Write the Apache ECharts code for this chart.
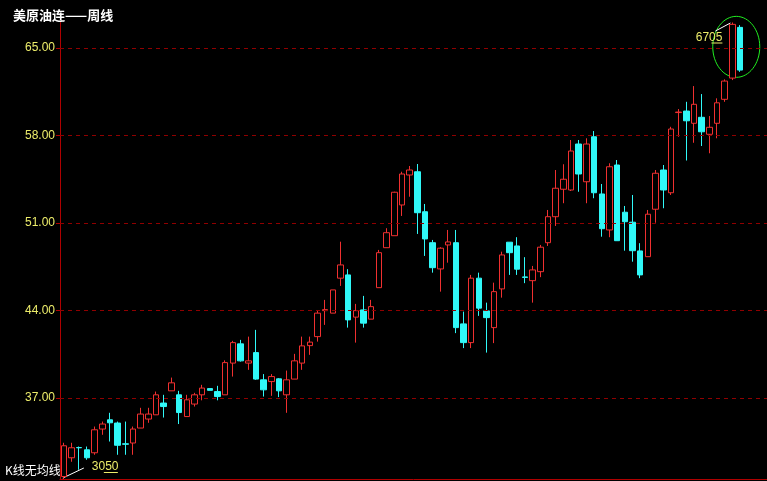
<!DOCTYPE html>
<html><head><meta charset="utf-8">
<script src="https://cdn.jsdelivr.net/npm/echarts@6/dist/echarts.min.js"></script>
<style>html,body{margin:0;padding:0;background:#000;} #c{width:767px;height:481px;}</style>
</head><body><div id="c"></div>
<script>
// Weekly bars (index order, oldest first)
const weeks = [1,2,3,4,5,6,7,8,9,10,11,12,13,14,15,16,17,18,19,20,21,22,23,24,25,26,27,28,29,30,
  31,32,33,34,35,36,37,38,39,40,41,42,43,44,45,46,47,48,49,50,51,52,53,54,55,56,57,58,59,60,
  61,62,63,64,65,66,67,68,69,70,71,72,73,74,75,76,77,78,79,80,81,82,83,84,85,86,87,88,89].map(String);
const opens = [30.70,32.20,33.02,32.84,32.60,34.50,35.24,34.98,33.32,33.38,
  34.58,35.30,35.64,36.58,37.56,37.24,35.50,36.50,37.24,37.74,
  37.50,37.24,39.78,41.32,39.78,40.62,38.44,38.30,38.52,37.24,
  38.50,39.78,41.18,41.90,43.98,43.78,46.58,46.84,43.46,44.04,
  43.30,45.82,49.02,49.98,52.44,54.84,55.10,51.90,49.42,47.32,
  49.24,49.42,42.92,41.42,46.58,43.96,42.62,45.72,49.46,49.16,
  46.68,46.38,47.10,49.42,51.50,53.70,53.64,57.32,54.30,57.90,
  53.32,50.44,55.64,51.86,51.06,48.76,48.30,52.10,55.24,53.42,
  59.84,59.96,58.98,59.46,58.10,58.98,60.90,62.60,66.66];
const closes = [33.16,33.00,33.00,32.20,34.44,34.90,35.00,33.20,33.28,34.50,
  35.70,35.70,37.24,36.30,38.20,35.82,36.84,37.24,37.78,37.60,
  37.10,39.82,41.42,39.96,39.96,38.50,37.64,38.70,37.56,38.44,
  39.96,41.16,41.46,43.78,44.06,45.64,47.64,43.24,43.98,42.98,
  44.30,48.62,50.22,53.46,54.92,55.24,51.82,49.72,47.42,48.98,
  49.48,42.62,41.42,46.58,44.18,43.42,45.50,48.44,48.62,47.30,
  46.64,47.24,49.06,51.50,53.78,54.50,56.76,54.92,57.32,53.42,
  50.54,55.50,49.58,51.10,48.78,46.84,51.70,54.98,53.64,58.52,
  59.88,59.18,60.50,58.30,58.66,60.62,62.36,66.90,63.24];
const lows = [30.50,31.88,31.24,32.04,32.44,34.04,33.50,32.44,32.44,32.44,
  34.58,35.00,35.64,35.42,37.56,34.90,35.50,36.30,36.80,37.60,
  36.80,37.24,38.70,39.90,39.24,38.44,37.10,37.16,37.06,35.80,
  38.50,39.24,40.44,41.50,42.84,43.78,45.96,42.62,41.42,42.62,
  43.30,45.82,49.02,49.98,51.56,53.10,50.12,48.36,47.02,45.50,
  47.82,42.18,40.98,40.98,43.56,40.62,41.38,45.02,46.84,46.84,
  46.18,44.62,46.66,49.16,50.76,52.58,53.56,53.50,52.58,52.98,
  49.90,49.86,49.58,48.78,47.90,46.58,48.30,51.02,52.18,53.24,
  57.90,56.00,57.42,57.16,56.58,57.78,60.70,62.44,63.10];
const highs = [33.40,33.40,33.10,33.10,34.70,35.10,35.80,35.10,35.10,34.70,
  36.20,36.20,37.50,37.24,38.62,37.56,37.24,37.40,38.04,37.74,
  37.96,40.00,41.56,41.64,41.90,42.44,38.90,38.90,38.58,39.18,
  40.52,41.90,41.90,43.96,44.84,45.64,49.50,47.30,44.52,45.16,
  44.84,48.84,50.58,53.50,55.10,55.56,55.72,52.52,49.64,49.06,
  50.44,50.44,43.90,46.84,47.02,44.62,46.22,48.70,49.46,49.86,
  48.26,47.56,49.24,52.04,55.24,55.70,57.64,57.64,57.78,58.36,
  54.12,55.78,56.04,52.36,53.24,49.38,52.04,55.24,55.64,58.70,
  60.12,60.70,61.96,61.32,59.56,60.98,62.50,67.05,66.84];
const yTicks = [37, 44, 51, 58, 65];
const titleText = '美原油连——周线';
const noteText = 'K线无均线';

const UP = '#f03030', DOWN = '#30f8f8', GRID = '#900000', AXIS = '#b00000', LABEL = '#ecec6a';
const chart = echarts.init(document.getElementById('c'), null, {renderer: 'canvas'});
const ohlc = opens.map((o, i) => [o, closes[i], lows[i], highs[i]]);

chart.setOption({
  backgroundColor: '#000',
  animation: false,
  title: {text: titleText, left: 8, top: 4,
    textStyle: {color: '#fff', fontSize: 13, fontWeight: 'bold', fontFamily: 'Noto Sans CJK SC'}},
  grid: {left: 60, right: 0, top: 22.5, bottom: 2, containLabel: false},
  xAxis: {type: 'category', data: weeks, max: 91, boundaryGap: true,
    axisLine: {show: true, lineStyle: {color: AXIS}},
    axisTick: {show: false}, axisLabel: {show: false}, splitLine: {show: false}},
  yAxis: {type: 'value', min: 30.5, max: 67.05, scale: true,
    axisLine: {show: true, lineStyle: {color: AXIS}},
    axisTick: {show: true, length: 4, customValues: yTicks, lineStyle: {color: AXIS}},
    axisLabel: {customValues: yTicks, color: LABEL, fontSize: 12, fontFamily: 'Liberation Sans',
      margin: 5, formatter: v => v.toFixed(2)},
    splitLine: {show: false}},
  series: [{
    type: 'candlestick', data: ohlc, barWidth: 6, silent: true,
    itemStyle: {color: '#000', color0: DOWN, borderColor: UP, borderColor0: DOWN, borderWidth: 1},
    markLine: {silent: true, symbol: ['none', 'none'], label: {show: false},
      lineStyle: {color: GRID, type: [4, 4], width: 1}, emphasis: {disabled: true},
      data: yTicks.map(v => ({yAxis: v}))}
  }]
});

const px = (i, v) => chart.convertToPixel({xAxisIndex: 0, yAxisIndex: 0}, [i, v]);
const last = opens.length - 1;
const hiIdx = last - 1;
const hi = px(hiIdx, highs[hiIdx]);
const lo = px(0, lows[0]);
const c1 = px(hiIdx, 65.1), c2 = px(last, 65.1);
const hiStr = highs[hiIdx].toFixed(2).replace('.', '');
const loStr = lows[0].toFixed(2).replace('.', '');
const font = '12px "Liberation Sans"';

chart.setOption({graphic: [
  {type: 'ellipse', shape: {cx: (c1[0] + c2[0]) / 2, cy: c1[1], rx: 23.5, ry: 30.5},
    style: {fill: 'none', stroke: '#20ee20', lineWidth: 1}, silent: true},
  {type: 'line', shape: {x1: hi[0] - 17, y1: hi[1] + 8.5, x2: hi[0] - 2, y2: hi[1] + 0.5},
    style: {stroke: '#fff', lineWidth: 1}},
  {type: 'text', x: hi[0] - 10, y: hi[1] + 15,
    style: {text: hiStr, fill: LABEL, font: font, align: 'right', verticalAlign: 'middle'}},
  {type: 'line', shape: {x1: hi[0] - 21, y1: hi[1] + 20.5, x2: hi[0] - 10, y2: hi[1] + 20.5},
    style: {stroke: LABEL, lineWidth: 1}},
  {type: 'line', shape: {x1: lo[0] - 1, y1: lo[1] - 1, x2: lo[0] + 20, y2: lo[1] - 11},
    style: {stroke: '#fff', lineWidth: 1}},
  {type: 'text', x: lo[0] + 28, y: lo[1] - 12,
    style: {text: loStr, fill: LABEL, font: font, align: 'left', verticalAlign: 'middle'}},
  {type: 'line', shape: {x1: lo[0] + 40, y1: lo[1] - 6.5, x2: lo[0] + 54, y2: lo[1] - 6.5},
    style: {stroke: LABEL, lineWidth: 1}},
  {type: 'text', x: 5, y: 470,
    style: {text: noteText, fill: '#fff', font: '12px "Noto Sans CJK SC"', align: 'left', verticalAlign: 'middle'}}
]});
</script>
</body></html>
